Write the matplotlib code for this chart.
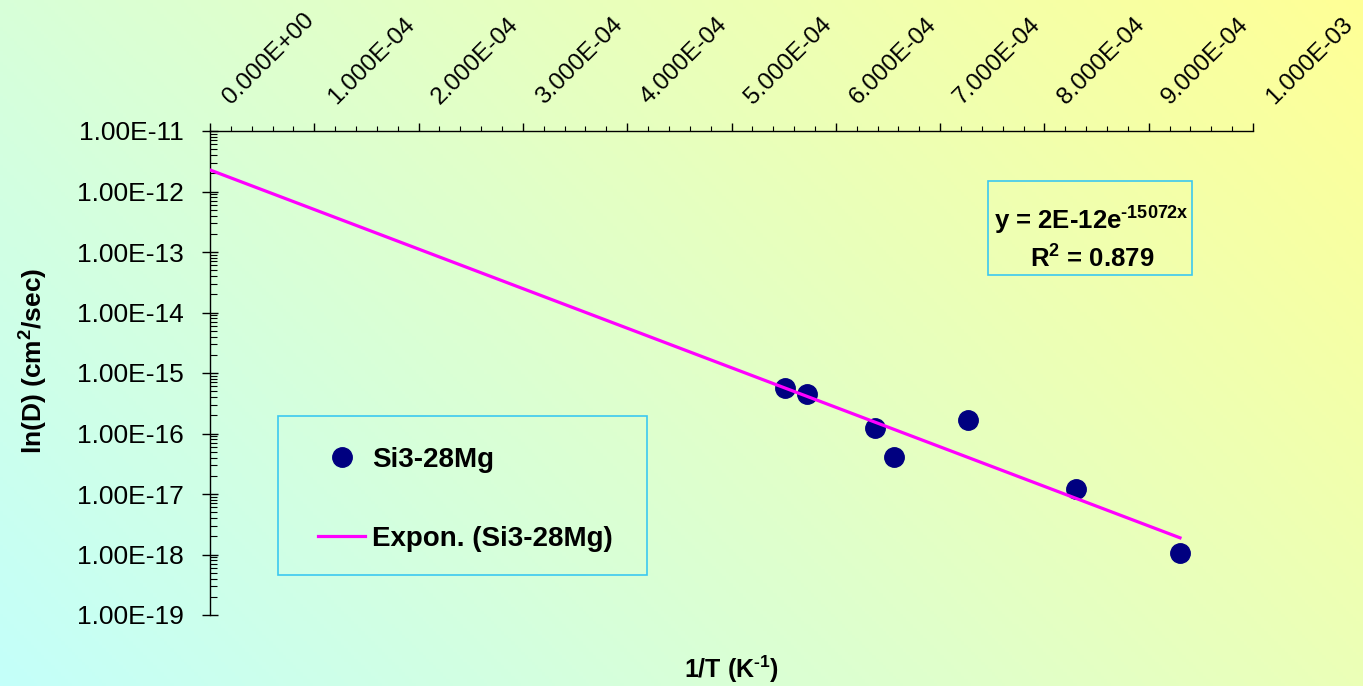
import matplotlib
matplotlib.use('Agg')
import matplotlib.pyplot as plt
import matplotlib.transforms as mtransforms
import numpy as np
from matplotlib.patches import Rectangle
from matplotlib.ticker import MultipleLocator, LogLocator, FuncFormatter, NullFormatter

plt.rcParams['font.family'] = ['Liberation Sans', 'DejaVu Sans']
plt.rcParams['mathtext.fontset'] = 'custom'
plt.rcParams['mathtext.rm'] = 'Liberation Sans'
plt.rcParams['mathtext.bf'] = 'Liberation Sans:bold'
plt.rcParams['axes.unicode_minus'] = False

# values
inv_T = [5.51e-4, 5.72e-4, 6.38e-4, 6.56e-4, 7.27e-4, 8.30e-4, 9.30e-4]
D = [5.6e-16, 4.55e-16, 1.22e-16, 4.1e-17, 1.65e-16, 1.22e-17, 1.05e-18]
series_name = 'Si3-28Mg'
fit_name = 'Expon. (Si3-28Mg)'
eq_line1 = 'y = 2E-12e$^{\\mathbf{\u201015072x}}$'
eq_line2 = r'R$^{\mathbf{2}}$ = 0.879'
x_title = '1/T (K$^{\\mathbf{\u20101}}$)'
y_title = r'ln(D) (cm$^{\mathbf{2}}$/sec)'
x_ticks = np.arange(11) * 1e-4
y_ticks = [1e-19, 1e-18, 1e-17, 1e-16, 1e-15, 1e-14, 1e-13, 1e-12, 1e-11]

navy = '#000080'
magenta = '#ff00ff'
box_col = '#3cc8f0'

W, H = 1363, 686
fig = plt.figure(figsize=(W / 100, H / 100), dpi=100)

# diagonal cyan -> yellow background
bg = fig.add_axes([0, 0, 1, 1], zorder=-10)
gx, gy = np.meshgrid(np.linspace(0, 1, 400), np.linspace(0, 1, 200))
t = (gx * W + gy * H) / (W + H)
c0 = np.array([196, 255, 250]) / 255
c1 = np.array([255, 255, 150]) / 255
bg.imshow(c0 + t[..., None] * (c1 - c0), origin='lower', extent=[0, 1, 0, 1], aspect='auto')
bg.axis('off')

ax = fig.add_axes([210 / W, 1 - 615 / H, (1253 - 210) / W, (615 - 131) / H])
ax.set_facecolor('none')

# exponential trend line (least squares on ln D)
coef = np.polyfit(inv_T, np.log(D), 1)
xf = np.linspace(0, max(inv_T), 100)
yf = np.exp(coef[1] + coef[0] * xf)

sc, = ax.plot(inv_T, D, ls='none', marker='o', ms=14, color=navy, zorder=3)
tr, = ax.plot(xf, yf, color=magenta, lw=2.3, zorder=4)

ax.set_yscale('log')
ax.set_xlim(0, 1e-3)
ax.set_ylim(1e-19, 1e-11)

for s in ['right', 'bottom']:
    ax.spines[s].set_visible(False)
for s in ['top', 'left']:
    ax.spines[s].set_linewidth(1)

# x axis on top
ax.xaxis.tick_top()
ax.set_xticks(x_ticks)
ax.xaxis.set_minor_locator(MultipleLocator(2e-5))
ax.xaxis.set_major_formatter(FuncFormatter(lambda v, p: '{:.3E}'.format(v)))
ax.tick_params(axis='x', which='major', direction='out', length=5.5, width=1,
               labelsize=17.5, pad=11, labelrotation=45)
ax.tick_params(axis='x', which='minor', direction='out', length=3.5, width=0.8)
offset = mtransforms.ScaledTranslation(25 / 100, 0, fig.dpi_scale_trans)
for lab in ax.get_xticklabels():
    lab.set_ha('left')
    lab.set_va('bottom')
    lab.set_rotation_mode('anchor')
    lab.set_transform(lab.get_transform() + offset)

# y axis
ax.set_yticks(y_ticks)
ax.yaxis.set_major_formatter(FuncFormatter(lambda v, p: '{:.2E}'.format(v)))
ax.yaxis.set_minor_locator(LogLocator(base=10, subs=np.arange(2, 10)))
ax.yaxis.set_minor_formatter(NullFormatter())
ax.tick_params(axis='y', which='major', direction='inout', length=11.5, width=1,
               labelsize=19, pad=13)
ax.tick_params(axis='y', which='minor', direction='in', length=5, width=0.8)

ax.set_xlabel(x_title, fontsize=18, fontweight='bold', labelpad=28)
ax.xaxis.set_label_position('bottom')
ax.set_ylabel(y_title, fontsize=19, fontweight='bold')
ax.yaxis.set_label_coords(-0.154, 0.525)

# legend with its own frame
fig.add_artist(Rectangle((278 / W, 1 - 575 / H), 369 / W, 159 / H, transform=fig.transFigure,
                         fill=False, edgecolor=box_col, lw=1.2))
fig.legend([sc, tr], [series_name, fit_name], loc='upper left',
           bbox_to_anchor=(318 / W, 1 - 447 / H), borderaxespad=0, borderpad=0,
           frameon=False, prop={'weight': 'bold', 'size': 20},
           labelspacing=1.9, handlelength=1.7, handletextpad=0.25)

# equation box
fig.add_artist(Rectangle((988 / W, 1 - 275 / H), 204 / W, 94 / H, transform=fig.transFigure,
                         fill=False, edgecolor=box_col, lw=1.2))
fig.text(1091 / W, 1 - 229 / H, eq_line1, ha='center', va='baseline',
         fontsize=18.5, fontweight='bold')
fig.text(1092 / W, 1 - 267 / H, eq_line2, ha='center', va='baseline',
         fontsize=18.5, fontweight='bold')

fig.savefig('out.png', dpi=100)
